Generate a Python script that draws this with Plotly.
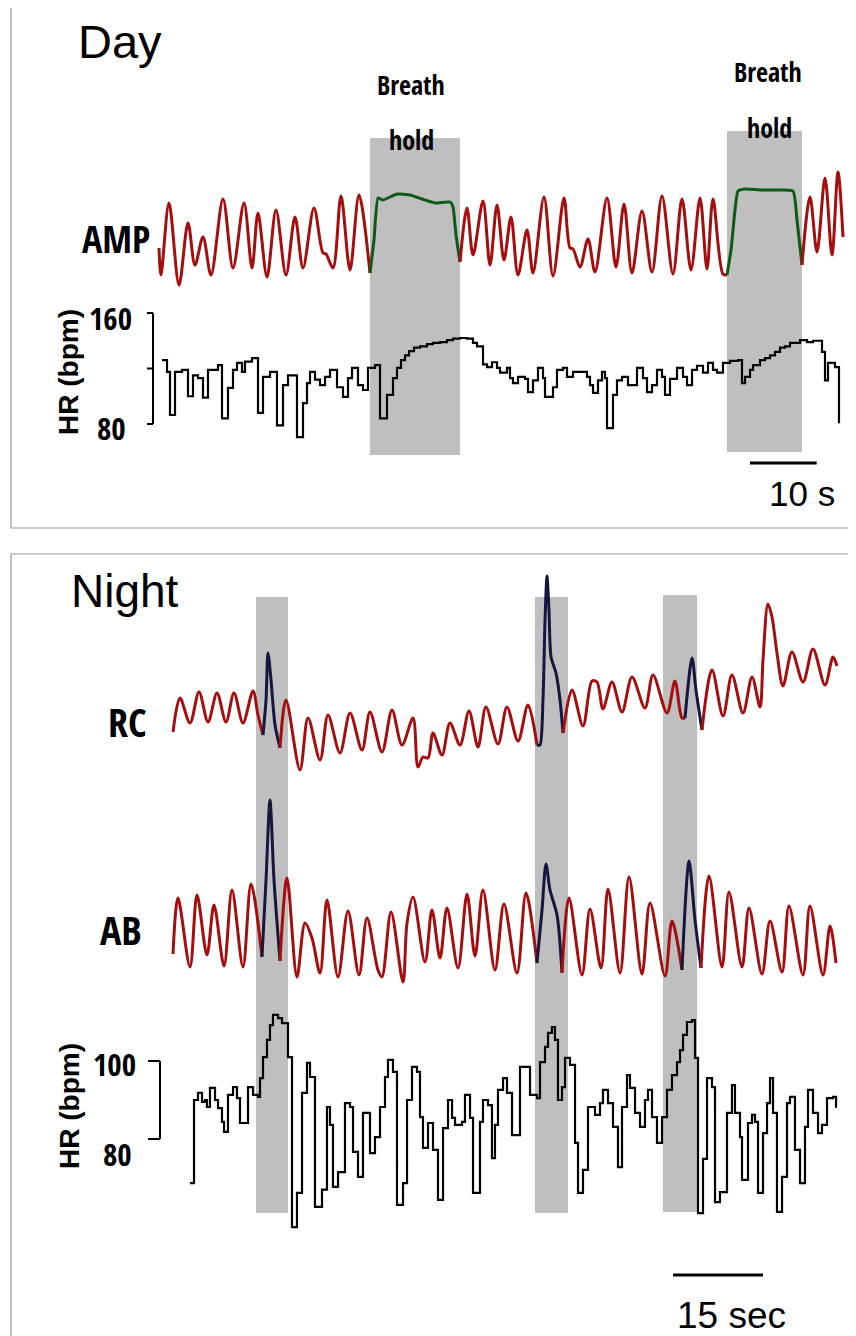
import plotly.graph_objects as go

# ---------------- DATA ----------------
# Day panel: time in seconds, AMP in arbitrary units, HR in bpm
DAY_AMP_RED_1_T = [0.15, 0.45, 1.65, 3.15, 4.5, 5.55, 6.75, 7.95, 9.75, 11.25, 12.9, 14.1, 15.0, 16.35, 17.7,
                   19.2, 20.55, 21.75, 23.4, 24.75, 25.2, 26.25, 27.45, 28.8, 30.15, 31.8]
DAY_AMP_RED_1_V = [52, 25, 97, 15, 77, 35, 63, 25, 101, 32, 97, 32, 87, 23, 90,
                   25, 83, 32, 92, 47, 46, 32, 104, 30, 105, 27]
DAY_AMP_GREEN_1_T = [31.8, 32.4, 33.0, 33.75, 35.85, 37.8, 39.6, 41.55, 43.8, 44.25, 44.7, 45.3]
DAY_AMP_GREEN_1_V = [27, 60, 102, 100, 106, 105, 101, 97, 98, 93, 65, 38]
DAY_AMP_RED_2_T = [45.3, 46.35, 47.25, 48.75, 49.8, 50.85, 51.9, 52.95, 54.0, 55.35, 56.25, 57.9, 59.25, 60.9,
                   61.8, 62.25, 63.3, 64.5, 65.55, 67.35, 68.7, 69.9, 71.1, 72.6, 74.1, 75.6, 77.25, 78.6,
                   79.95, 81.3, 82.35, 83.25, 84.75, 85.35]
DAY_AMP_RED_2_V = [38, 92, 45, 99, 35, 95, 40, 83, 25, 70, 27, 103, 24, 102,
                   52, 51, 33, 61, 28, 102, 33, 96, 27, 89, 28, 104, 26, 101,
                   30, 102, 31, 101, 26, 25]
DAY_AMP_GREEN_2_T = [85.35, 85.95, 86.55, 87.0, 88.05, 90.3, 92.55, 95.25, 95.85, 96.6]
DAY_AMP_GREEN_2_V = [25, 50, 90, 109, 111, 110, 110, 109, 80, 35]
DAY_AMP_RED_3_T = [96.6, 97.8, 98.85, 100.05, 101.1, 102.0, 102.75]
DAY_AMP_RED_3_V = [35, 103, 48, 122, 45, 128, 63]

DAY_HR_T = [0.6, 1.35, 1.8, 2.55, 3.6, 4.5, 5.25, 6.0, 6.75, 7.5,
            9.0, 9.6, 10.5, 11.25, 11.85, 12.6, 13.05, 14.1, 15.0, 15.75,
            16.8, 17.85, 18.75, 19.5, 20.85, 21.75, 22.35, 22.8, 23.55, 24.3,
            25.05, 25.8, 26.85, 27.75, 28.5, 29.1, 30.0, 30.75, 31.5, 32.55,
            33.3, 34.35, 35.25, 35.85, 36.45, 37.05, 37.65, 38.4, 39.3, 40.35,
            41.25, 42.3, 43.35, 44.25, 45.3, 46.35, 47.25, 47.85, 48.75, 49.35,
            50.1, 50.85, 51.3, 52.35, 52.8, 53.25, 54.0, 55.05, 55.5, 56.25,
            57.0, 57.75, 58.05, 59.25, 59.85, 60.75, 61.35, 62.25, 64.35, 64.8,
            65.25, 66.0, 66.6, 67.05, 67.35, 68.25, 68.85, 69.6, 70.5, 71.85,
            72.75, 73.35, 74.1, 74.85, 75.6, 76.05, 76.8, 77.85, 78.75, 79.35,
            80.1, 80.85, 81.75, 82.5, 83.25, 83.85, 84.75, 85.8, 87.0, 87.6,
            88.05, 88.8, 89.25, 90.3, 91.05, 91.8, 92.55, 93.3, 94.05, 94.8,
            96.3, 97.35, 98.25, 99.6, 100.05, 100.5, 101.55, 102.15]
DAY_HR_BPM = [126, 117.5, 86.5, 117.5, 119, 100, 115, 113, 99, 119,
              122.5, 84, 106, 119, 124, 117.5, 125, 127.5, 88, 114,
              117.5, 79, 108, 115, 70.5, 95, 109.5, 117.5, 112, 108,
              114, 119, 106.5, 99.5, 113, 120.5, 108, 104.5, 120.5, 122.5,
              84, 101, 113, 120.5, 126, 129.5, 132.5, 135, 136, 137.5,
              138.5, 139, 140.5, 141.5, 142, 141.5, 138.5, 136, 123, 121,
              124.5, 120.5, 117, 120.5, 113, 109.5, 114, 112.5, 103, 111.5,
              120.5, 113, 99.5, 106.5, 119, 120.5, 114, 117.5, 114, 108,
              102.5, 111.5, 117.5, 113, 77, 101, 111.5, 114, 108, 120.5,
              113, 103, 108, 119, 114, 101, 112.5, 120.5, 114, 108,
              119, 122, 117, 124, 119, 117, 124, 125.5, 126, 109.5,
              114, 119, 122.5, 126, 127.5, 129.5, 132, 135, 136, 138.5,
              140.5, 139, 140, 132, 111.5, 124, 121, 80.5]
DAY_HOLDS = [(31.8, 45.3), (85.35, 96.6)]  # breath-hold intervals (s)

# Night panel
NIGHT_RC_RED_1_T = [0.17, 1.33, 3.0, 4.5, 6.0, 7.5, 9.0, 10.33, 11.83, 13.5, 14.33, 15.17]
NIGHT_RC_RED_1_V = [48, 82, 57, 88, 58, 87, 58, 87, 57, 89, 65, 45]
NIGHT_RC_EV_1_T = [15.17, 15.67, 16.0, 16.5, 17.17, 18.0]
NIGHT_RC_EV_1_V = [45, 80, 127, 100, 55, 32]
NIGHT_RC_RED_2_T = [18.0, 19.0, 21.33, 22.67, 24.67, 26.0, 28.0, 29.67, 31.67, 33.0,
                    35.0, 36.67, 38.33, 40.17, 41.0, 41.83, 42.67, 43.5, 45.0, 46.33,
                    48.0, 49.5, 51.0, 52.33, 54.33, 55.83, 57.67, 59.33, 60.83]
NIGHT_RC_RED_2_V = [32, 80, 10, 62, 20, 65, 27, 67, 30, 68,
                    28, 70, 35, 62, 13, 23, 22, 47, 25, 57,
                    35, 69, 33, 73, 36, 73, 39, 75, 35]
NIGHT_RC_EV_2_T = [60.83, 61.33, 61.83, 62.17, 62.5, 62.83, 63.17, 64.0, 64.67, 65.17]
NIGHT_RC_EV_2_V = [35, 35, 80, 160, 204, 170, 123, 107, 80, 47]
NIGHT_RC_RED_3_T = [65.17, 66.67, 68.5, 70.0, 70.83, 71.83, 73.33, 75.0, 76.67, 78.83, 80.17, 82.5, 83.83, 85.0, 85.5]
NIGHT_RC_RED_3_V = [47, 90, 54, 99, 98, 71, 98, 68, 103, 72, 105, 67, 99, 62, 62]
NIGHT_RC_EV_3_T = [85.5, 86.67, 87.33, 88.33]
NIGHT_RC_EV_3_V = [62, 122, 90, 50]
NIGHT_RC_RED_4_T = [88.33, 90.0, 91.83, 93.33, 95.17, 96.67, 98.0, 98.5, 99.33, 100.0, 100.83, 101.83,
                    103.33, 105.17, 106.83, 108.83, 110.17, 110.83]
NIGHT_RC_RED_4_V = [50, 110, 64, 105, 67, 103, 73, 120, 176, 163, 127, 94,
                    128, 98, 131, 95, 123, 114]

NIGHT_AB_RED_1_T = [0.17, 1.0, 3.0, 4.17, 5.83, 7.0, 8.67, 10.0, 11.83, 13.17, 15.0]
NIGHT_AB_RED_1_V = [46, 102, 33, 105, 45, 95, 34, 110, 33, 116, 43]
NIGHT_AB_EV_1_T = [15.0, 15.67, 16.33, 17.0, 18.0]
NIGHT_AB_EV_1_V = [43, 120, 200, 120, 39]
NIGHT_AB_RED_2_T = [18.0, 19.17, 20.83, 22.17, 23.33, 24.67, 25.83, 27.67, 29.33, 31.17,
                    32.5, 34.33, 35.0, 36.5, 38.5, 39.17, 40.17, 42.17, 43.33, 44.67,
                    45.83, 47.67, 49.17, 50.5, 51.83, 53.83, 55.33, 57.5, 59.0, 60.83]
NIGHT_AB_RED_2_V = [39, 122, 23, 77, 62, 27, 100, 23, 89, 25,
                    82, 30, 23, 88, 18, 77, 103, 38, 90, 42,
                    92, 32, 106, 44, 110, 30, 96, 27, 107, 37]
NIGHT_AB_EV_2_T = [60.83, 61.67, 62.33, 63.0, 64.17, 65.0]
NIGHT_AB_EV_2_V = [37, 90, 136, 110, 85, 27]
NIGHT_AB_RED_3_T = [65.0, 66.17, 68.33, 69.67, 71.5, 72.67, 74.67, 76.17, 78.33, 79.67, 82.17, 83.33, 85.0]
NIGHT_AB_RED_3_V = [27, 102, 25, 91, 32, 111, 27, 123, 26, 97, 24, 79, 30]
NIGHT_AB_EV_3_T = [85.0, 86.17, 87.17, 88.17]
NIGHT_AB_EV_3_V = [30, 139, 80, 32]
NIGHT_AB_RED_4_T = [88.17, 89.5, 91.67, 92.83, 95.0, 96.17, 98.33, 99.67, 101.67, 102.83, 105.17, 106.33,
                    108.5, 109.67, 110.67]
NIGHT_AB_RED_4_V = [32, 124, 33, 108, 33, 92, 26, 79, 28, 94, 25, 94, 25, 74, 37]

NIGHT_HR_T = [3.0, 3.67, 4.33, 5.0, 5.5, 5.83, 6.33, 7.17, 7.67, 8.33,
              8.67, 9.33, 10.17, 10.83, 11.33, 12.67, 13.5, 14.33, 14.67, 15.17,
              15.83, 16.33, 16.83, 17.67, 18.33, 19.33, 20.0, 20.83, 21.67, 22.5,
              23.0, 23.83, 25.0, 25.83, 26.33, 26.83, 27.67, 28.83, 29.67, 30.17,
              31.0, 31.83, 33.0, 33.83, 34.67, 35.5, 36.0, 36.83, 37.5, 38.5,
              39.17, 40.0, 40.83, 41.33, 41.83, 42.67, 43.5, 44.33, 45.17, 46.0,
              46.67, 47.17, 48.33, 48.83, 49.67, 50.17, 51.33, 51.83, 52.67, 53.33,
              53.83, 54.33, 55.17, 55.83, 56.67, 58.0, 59.67, 60.83, 61.33, 62.17,
              62.67, 63.33, 63.83, 64.33, 65.0, 65.5, 66.33, 67.17, 67.67, 68.5,
              69.33, 70.5, 71.33, 71.83, 72.67, 73.5, 74.33, 75.0, 75.83, 76.33,
              77.17, 78.0, 78.83, 79.33, 80.0, 80.83, 81.67, 82.5, 83.33, 84.17,
              84.67, 85.17, 85.83, 86.67, 87.17, 87.67, 88.5, 89.17, 90.0, 90.5,
              91.33, 92.5, 93.33, 93.83, 94.67, 95.0, 96.0, 96.67, 97.17, 97.67,
              98.5, 99.17, 99.67, 100.17, 100.83, 101.67, 102.5, 103.0, 103.83, 104.67,
              105.5, 106.0, 106.83, 107.67, 108.33, 109.17, 110.17, 110.67]
NIGHT_HR_BPM = [68.7, 90.0, 91.8, 89.5, 90.0, 88.2, 93.1, 90.0, 87.9, 84.4,
                81.8, 91.3, 93.3, 90.5, 84.1, 93.3, 91.3, 90.8, 95.6, 101.0,
                105.4, 109.2, 111.8, 111.0, 109.7, 101.0, 57.4, 66.2, 91.8, 99.5,
                95.9, 62.6, 67.0, 88.2, 83.6, 67.7, 71.5, 89.2, 88.2, 76.7,
                70.3, 86.7, 76.4, 80.5, 88.2, 95.9, 100.3, 97.2, 63.1, 68.7,
                90.0, 98.5, 97.2, 85.6, 77.7, 84.1, 77.2, 64.4, 82.8, 90.0,
                85.4, 83.6, 84.4, 91.3, 85.4, 66.2, 84.4, 90.0, 88.7, 75.1,
                83.6, 92.6, 95.6, 91.8, 81.0, 98.5, 91.3, 90.5, 99.7, 103.6,
                107.2, 108.7, 105.4, 90.0, 93.3, 100.8, 99.0, 79.0, 66.2, 72.1,
                88.2, 86.2, 89.2, 92.6, 89.2, 83.1, 72.8, 88.2, 96.4, 93.1,
                86.7, 83.1, 90.0, 92.6, 85.6, 79.0, 85.6, 92.6, 96.4, 99.7,
                102.8, 106.7, 110.0, 110.5, 100.8, 61.0, 74.9, 95.6, 93.3, 63.8,
                66.4, 86.7, 93.8, 86.7, 80.5, 69.5, 84.1, 86.2, 84.4, 66.2,
                81.5, 89.2, 95.6, 86.7, 61.3, 70.3, 89.2, 90.8, 77.2, 68.7,
                83.1, 92.6, 86.7, 81.5, 83.6, 90.5, 90.8, 88.0]
NIGHT_EVENTS = [(14.0, 19.33), (60.5, 66.0), (81.83, 87.5)]  # shaded events (s)

DAY_HR_TICKS = [80, 120, 160]
NIGHT_HR_TICKS = [80, 100]
DAY_SCALE_S = 10
NIGHT_SCALE_S = 15

# ---------------- STYLE / LAYOUT ----------------
W, H = 856.0, 1336.0
OX, OY = 8.0, 8.0   # the page places the figure 8 px in from the top-left corner


def PX(p):
    return (p - OX) / W


def PY(p):
    return 1 - (p - OY) / H


RED = "#a50e0e"
GREEN = "#0e5a14"
NAVY = "#161640"
SHADE = "#bfbfbf"
BORDER = "#9a9a9a"
NARROW = ("Open Sans Condensed, Roboto Condensed, Noto Sans ExtraCondensed, Noto Sans Condensed, "
          "Liberation Sans Narrow, Arial Narrow, DejaVu Sans Condensed, sans-serif")
ARIAL = "Liberation Sans, Arial, sans-serif"

fig = go.Figure()


def wave(t, v, color, xa, ya, smooth=0.9, width=3.0):
    fig.add_trace(go.Scatter(x=t, y=v, mode="lines", xaxis=xa, yaxis=ya,
                             line=dict(color=color, width=width, shape="spline", smoothing=smooth),
                             hoverinfo="skip", showlegend=False))


def steps(t, v, xa, ya):
    fig.add_trace(go.Scatter(x=t, y=v, mode="lines", xaxis=xa, yaxis=ya,
                             line=dict(color="black", width=2.2, shape="hv"),
                             hoverinfo="skip", showlegend=False))


# Day
wave(DAY_AMP_RED_1_T, DAY_AMP_RED_1_V, RED, "x", "y")
wave(DAY_AMP_GREEN_1_T, DAY_AMP_GREEN_1_V, GREEN, "x", "y", smooth=0.45)
wave(DAY_AMP_RED_2_T, DAY_AMP_RED_2_V, RED, "x", "y")
wave(DAY_AMP_GREEN_2_T, DAY_AMP_GREEN_2_V, GREEN, "x", "y", smooth=0.45)
wave(DAY_AMP_RED_3_T, DAY_AMP_RED_3_V, RED, "x", "y")
steps(DAY_HR_T, DAY_HR_BPM, "x", "y2")

# Night
wave(NIGHT_RC_RED_1_T, NIGHT_RC_RED_1_V, RED, "x2", "y3")
wave(NIGHT_RC_EV_1_T, NIGHT_RC_EV_1_V, NAVY, "x2", "y3", smooth=0.8)
wave(NIGHT_RC_RED_2_T, NIGHT_RC_RED_2_V, RED, "x2", "y3")
wave(NIGHT_RC_EV_2_T, NIGHT_RC_EV_2_V, NAVY, "x2", "y3", smooth=0.7)
wave(NIGHT_RC_RED_3_T, NIGHT_RC_RED_3_V, RED, "x2", "y3")
wave(NIGHT_RC_EV_3_T, NIGHT_RC_EV_3_V, NAVY, "x2", "y3", smooth=0.8)
wave(NIGHT_RC_RED_4_T, NIGHT_RC_RED_4_V, RED, "x2", "y3")

wave(NIGHT_AB_RED_1_T, NIGHT_AB_RED_1_V, RED, "x2", "y4")
wave(NIGHT_AB_EV_1_T, NIGHT_AB_EV_1_V, NAVY, "x2", "y4", smooth=0.8)
wave(NIGHT_AB_RED_2_T, NIGHT_AB_RED_2_V, RED, "x2", "y4")
wave(NIGHT_AB_EV_2_T, NIGHT_AB_EV_2_V, NAVY, "x2", "y4", smooth=0.8)
wave(NIGHT_AB_RED_3_T, NIGHT_AB_RED_3_V, RED, "x2", "y4")
wave(NIGHT_AB_EV_3_T, NIGHT_AB_EV_3_V, NAVY, "x2", "y4", smooth=0.8)
wave(NIGHT_AB_RED_4_T, NIGHT_AB_RED_4_V, RED, "x2", "y4")
steps(NIGHT_HR_T, NIGHT_HR_BPM, "x2", "y5")

hidden = dict(visible=False, showgrid=False, zeroline=False, fixedrange=True)

shapes = []
# panel frames
shapes.append(dict(type="rect", xref="paper", yref="paper", x0=PX(11), x1=PX(855), y0=PY(528), y1=PY(6),
                   line=dict(color=BORDER, width=1.2), fillcolor="rgba(0,0,0,0)", layer="below"))
shapes.append(dict(type="rect", xref="paper", yref="paper", x0=PX(11), x1=PX(855), y0=PY(1350), y1=PY(554),
                   line=dict(color=BORDER, width=1.2), fillcolor="rgba(0,0,0,0)", layer="below"))
# shaded intervals
day_box_y = [(138, 455), (131, 452)]
for (a, b), (top, bot) in zip(DAY_HOLDS, day_box_y):
    shapes.append(dict(type="rect", xref="x", yref="paper", x0=a, x1=b, y0=PY(bot), y1=PY(top),
                       fillcolor=SHADE, line=dict(width=0), layer="below"))
night_box_y = [(597, 1213), (597, 1213), (595, 1212)]
for (a, b), (top, bot) in zip(NIGHT_EVENTS, night_box_y):
    shapes.append(dict(type="rect", xref="x2", yref="paper", x0=a, x1=b, y0=PY(bot), y1=PY(top),
                       fillcolor=SHADE, line=dict(width=0), layer="below"))
# HR scale brackets
shapes.append(dict(type="line", xref="paper", yref="y2", x0=PX(153), x1=PX(153),
                   y0=min(DAY_HR_TICKS), y1=max(DAY_HR_TICKS), line=dict(color="black", width=2)))
for tv in DAY_HR_TICKS:
    shapes.append(dict(type="line", xref="paper", yref="y2", x0=PX(147), x1=PX(153), y0=tv, y1=tv,
                       line=dict(color="black", width=2)))
shapes.append(dict(type="line", xref="paper", yref="y5", x0=PX(160), x1=PX(160),
                   y0=min(NIGHT_HR_TICKS), y1=max(NIGHT_HR_TICKS), line=dict(color="black", width=2)))
for tv in NIGHT_HR_TICKS:
    shapes.append(dict(type="line", xref="paper", yref="y5", x0=PX(148), x1=PX(160), y0=tv, y1=tv,
                       line=dict(color="black", width=2)))
# time scale bars
day_bar_start = 88.8
shapes.append(dict(type="line", xref="x", yref="paper", x0=day_bar_start, x1=day_bar_start + DAY_SCALE_S,
                   y0=PY(463), y1=PY(463), line=dict(color="black", width=3)))
night_bar_start = 83.5
shapes.append(dict(type="line", xref="x2", yref="paper", x0=night_bar_start, x1=night_bar_start + NIGHT_SCALE_S,
                   y0=PY(1275), y1=PY(1275), line=dict(color="black", width=3)))

ann = []


def text(t, x, y, size, family=ARIAL, xref="paper", yref="paper", xanchor="center", yanchor="middle",
         angle=0, yshift=0):
    ann.append(dict(text=t, x=x, y=y, xref=xref, yref=yref, xanchor=xanchor, yanchor=yanchor,
                    showarrow=False, textangle=angle, yshift=yshift,
                    font=dict(family=family, size=size, color="black")))


text("Day", PX(76), PY(42), 47, xanchor="left")
text("Night", PX(69), PY(591), 46, xanchor="left")
text("<b>Breath</b>", 37.95, PY(85), 26, family=NARROW, xref="x")
text("<b>hold</b>", 37.95, PY(140), 26, family=NARROW, xref="x")
text("<b>Breath</b>", 91.5, PY(72), 26, family=NARROW, xref="x")
text("<b>hold</b>", 91.65, PY(128), 26, family=NARROW, xref="x")
text("<b>AMP</b>", PX(116), PY(238), 38, family=NARROW)
text("<b>HR (bpm)</b>", PX(68), PY(372), 28, angle=-90)
text("<b>160</b>", PX(134), 160, 31, family=NARROW, yref="y2", xanchor="right", yshift=-5)
text("<b>80</b>", PX(128), 80, 31, family=NARROW, yref="y2", xanchor="right", yshift=-4)
text("10 s", 96.6, PY(493), 35, xref="x")
text("<b>RC</b>", PX(127), PY(721), 40, family=NARROW)
text("<b>AB</b>", PX(121), PY(929), 40, family=NARROW)
text("<b>HR (bpm)</b>", PX(69), PY(1106), 28, angle=-90)
text("<b>100</b>", PX(138), 100, 31, family=NARROW, yref="y5", xanchor="right", yshift=-3)
text("<b>80</b>", PX(134), 80, 31, family=NARROW, yref="y5", xanchor="right", yshift=-15)
text("15 sec", night_bar_start + 0.3, PY(1315), 37, xref="x2", xanchor="left")

fig.update_layout(
    width=856, height=1336, margin=dict(l=0, r=0, t=0, b=0),
    paper_bgcolor="white", plot_bgcolor="rgba(0,0,0,0)",
    showlegend=False,
    xaxis=dict(hidden, domain=[0, 1], range=[(OX - 158) * 0.15, (OX + W - 158) * 0.15], anchor="y"),
    yaxis=dict(hidden, domain=[PY(300), PY(155)], range=[0, 145], anchor="x"),
    yaxis2=dict(hidden, domain=[PY(455), PY(300)], range=[57.66, 169.37], anchor="x"),
    xaxis2=dict(hidden, domain=[0, 1], range=[(OX - 172) / 6, (OX + W - 172) / 6], anchor="y3"),
    yaxis3=dict(hidden, domain=[PY(795), PY(555)], range=[-15, 225], anchor="x2"),
    yaxis4=dict(hidden, domain=[PY(1000), PY(780)], range=[0, 220], anchor="x2"),
    yaxis5=dict(hidden, domain=[PY(1245), PY(995)], range=[52.82, 116.92], anchor="x2"),
    shapes=shapes, annotations=ann,
)

fig.write_html("out.html")
